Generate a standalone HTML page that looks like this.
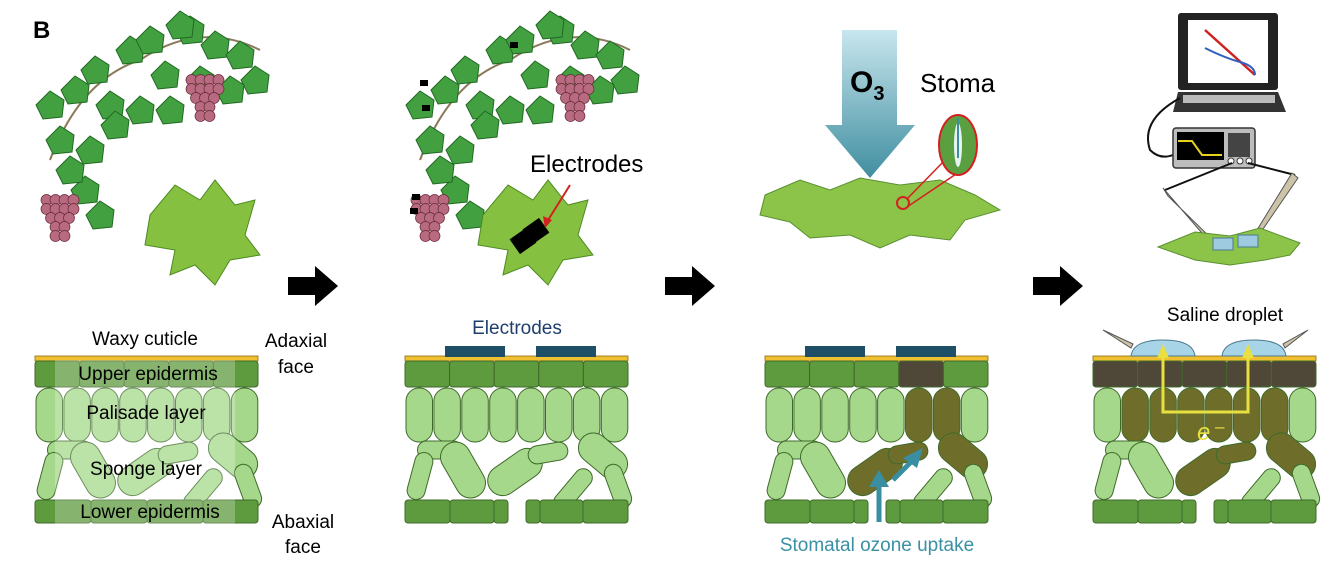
<!DOCTYPE html>
<html><head><meta charset="utf-8">
<style>
html,body{margin:0;padding:0;background:#fff;}
svg{display:block;font-family:"Liberation Sans",sans-serif;}
</style></head>
<body>
<svg id="fig" width="1338" height="566" viewBox="0 0 1338 566">
<text x="33" y="38" font-size="24" font-weight="bold">B</text>

<g id="vine1"></g>
<g id="vine2"></g>

<g>
<path d="M150 215 L175 185 L200 200 L215 180 L235 205 L255 200 L245 235 L260 255 L230 260 L215 285 L195 265 L170 275 L175 250 L145 245 Z" fill="#86c040" stroke="#4e8a22" stroke-width="1"/>
</g>
<g>
<path d="M483 215 L508 185 L533 200 L548 180 L568 205 L588 200 L578 235 L593 255 L563 260 L548 285 L528 265 L503 275 L508 250 L478 245 Z" fill="#86c040" stroke="#4e8a22" stroke-width="1"/>
<rect x="513" y="232" width="20" height="18" fill="#000" transform="rotate(-35 523 241)"/>
<rect x="526" y="222" width="20" height="18" fill="#000" transform="rotate(-35 536 231)"/>
<line x1="570" y1="185" x2="545" y2="225" stroke="#d42020" stroke-width="2"/>
<polygon points="545,228 543,216 552,220" fill="#d42020"/>
</g>
<text x="530" y="172" font-size="24">Electrodes</text>

<g>
<defs><linearGradient id="og" x1="0" y1="0" x2="0" y2="1"><stop offset="0" stop-color="#c8e6ee"/><stop offset="1" stop-color="#3f8ea0"/></linearGradient></defs>
<polygon points="842,30 897,30 897,125 915,125 870,178 825,125 842,125" fill="url(#og)"/>
<text x="850" y="92" font-size="30" font-weight="bold">O<tspan font-size="20" dy="8">3</tspan></text>
</g>
<text x="920" y="92" font-size="26">Stoma</text>
<g>
<path d="M765 195 L800 180 L830 190 L860 178 L900 185 L940 180 L975 195 L1000 210 L965 220 L950 240 L910 235 L880 248 L850 235 L810 238 L790 222 L760 215 Z" fill="#8cc44a" stroke="#5a9030" stroke-width="1"/>
<circle cx="903" cy="203" r="6" fill="none" stroke="#d42020" stroke-width="2"/>
<line x1="907" y1="199" x2="945" y2="160" stroke="#d42020" stroke-width="1.5"/>
<line x1="907" y1="207" x2="965" y2="168" stroke="#d42020" stroke-width="1.5"/>
<ellipse cx="958" cy="145" rx="19" ry="30" fill="#5aa040" stroke="#d42020" stroke-width="2"/>
<ellipse cx="958" cy="145" rx="4" ry="22" fill="#e8f4f4"/>
<line x1="958" y1="118" x2="958" y2="158" stroke="#3f8ea0" stroke-width="2"/>
</g>

<g>
<rect x="1178" y="13" width="100" height="77" rx="3" fill="#222"/>
<rect x="1188" y="20" width="80" height="63" fill="#fff"/>
<line x1="1205" y1="30" x2="1255" y2="75" stroke="#d02020" stroke-width="2.5"/>
<path d="M1205 48 Q1225 58 1240 62 T1255 75" fill="none" stroke="#3060c0" stroke-width="2"/>
<polygon points="1178,92 1278,92 1286,112 1173,112" fill="#333"/>
<rect x="1183" y="95" width="92" height="8" fill="#bbb"/>
</g>
<path d="M1180 98 Q1140 120 1150 150 Q1160 160 1173 155" fill="none" stroke="#111" stroke-width="2"/>
<g>
<rect x="1173" y="128" width="82" height="40" rx="3" fill="#bdbdbd" stroke="#333" stroke-width="1.5"/>
<rect x="1177" y="132" width="47" height="28" fill="#000"/>
<path d="M1178 141 L1192 141 L1202 155 L1222 155" stroke="#e6d020" stroke-width="2" fill="none"/>
<rect x="1228" y="133" width="22" height="24" fill="#444"/>
<circle cx="1231" cy="161" r="3" fill="#fff" stroke="#333"/><circle cx="1240" cy="161" r="3" fill="#fff" stroke="#333"/><circle cx="1249" cy="161" r="3" fill="#fff" stroke="#333"/>
</g>
<line x1="1232" y1="163" x2="1165" y2="190" stroke="#111" stroke-width="2"/>
<line x1="1248" y1="163" x2="1295" y2="175" stroke="#111" stroke-width="2"/>
<polygon points="1163,188 1168,196 1218,245 1214,247" fill="#ccc3a8" stroke="#555" stroke-width="1"/>
<polygon points="1292,173 1298,178 1252,245 1249,243" fill="#ccc3a8" stroke="#555" stroke-width="1"/>
<g>
<path d="M1158 247 L1195 232 L1230 236 L1260 228 L1300 243 L1290 255 L1265 260 L1230 265 L1195 260 Z" fill="#8cc44a" stroke="#5a9030"/>
<rect x="1213" y="238" width="20" height="12" fill="#9ecbe0" stroke="#4a7a90"/>
<rect x="1238" y="235" width="20" height="12" fill="#9ecbe0" stroke="#4a7a90"/>
</g>

<g fill="#000">
<polygon points="288,277 315,277 315,266 338,286 315,306 315,295 288,295"/>
<polygon points="665,277 692,277 692,266 715,286 692,306 692,295 665,295"/>
<polygon points="1033,277 1060,277 1060,266 1083,286 1060,306 1060,295 1033,295"/>
</g>

<g id="sections"></g>

<text x="145" y="345" font-size="19" text-anchor="middle">Waxy cuticle</text>
<text x="296" y="347" font-size="19" text-anchor="middle">Adaxial</text>
<text x="296" y="373" font-size="19" text-anchor="middle">face</text>
<text x="148" y="380" font-size="19" text-anchor="middle">Upper epidermis</text>
<text x="146" y="419" font-size="19" text-anchor="middle">Palisade layer</text>
<text x="146" y="475" font-size="19" text-anchor="middle">Sponge layer</text>
<text x="150" y="518" font-size="19" text-anchor="middle">Lower epidermis</text>
<text x="303" y="528" font-size="19" text-anchor="middle">Abaxial</text>
<text x="303" y="553" font-size="19" text-anchor="middle">face</text>
<text x="517" y="334" font-size="19" text-anchor="middle" fill="#1e3f6e">Electrodes</text>
<text x="877" y="551" font-size="19" text-anchor="middle" fill="#3a90a4">Stomatal ozone uptake</text>
<text x="1225" y="321" font-size="19" text-anchor="middle">Saline droplet</text>
</svg>
<script>
const NS="http://www.w3.org/2000/svg";
function mk(parent,tag,attrs){const e=document.createElementNS(NS,tag);for(const k in attrs)e.setAttribute(k,attrs[k]);parent.appendChild(e);return e;}
const panelX=[35,405,765,1093];
const DARK="#5e9a3e",LIGHT="#a5d88a",OLIVE="#6e6e2a",BROWN="#4f4838",STROKE="#3f6a2a";
const sponge3=[[35,120,45,18,0],[15,146,18,48,15],[58,140,30,60,-30],[110,142,30,60,55],[143,123,40,18,-10],[168,160,18,50,40],[198,126,30,55,-50],[213,156,18,45,-20]];
const sections=document.getElementById('sections');
panelX.forEach((x0,p)=>{
  const g=mk(sections,'g',{transform:`translate(${x0},330)`});
  
  
  mk(g,'rect',{x:0,y:26,width:223,height:5,fill:'#f0c030',stroke:'#8a6a10','stroke-width':0.8});
  for(let i=0;i<5;i++){
    let f=DARK; if(p===2&&i===3)f=BROWN; if(p===3)f=BROWN;
    mk(g,'rect',{x:i*44.6,y:31,width:44.6,height:26,rx:3,fill:f,stroke:STROKE,'stroke-width':1});
  }
  for(let i=0;i<8;i++){
    let f=LIGHT; if(p===2&&(i===5||i===6))f=OLIVE; if(p===3&&i>=1&&i<=6)f=OLIVE;
    mk(g,'rect',{x:i*27.9+1,y:58,width:26.5,height:54,rx:13,fill:f,stroke:STROKE,'stroke-width':1});
  }
  sponge3.forEach((c,i)=>{
    let f=LIGHT; if(p>=2&&(i===3||i===4||i===6))f=OLIVE;
    mk(g,'rect',{x:c[0]-c[2]/2,y:c[1]-c[3]/2,width:c[2],height:c[3],rx:Math.min(c[2],c[3])/2,fill:f,stroke:STROKE,'stroke-width':1,transform:`rotate(${c[4]} ${c[0]} ${c[1]})`});
  });
  const lower=p===0?[[0,56],[56,112],[112,168],[168,223]]:[[0,45],[45,89],[89,103],[121,135],[135,178],[178,223]];
  lower.forEach(c=>mk(g,'rect',{x:c[0],y:170,width:c[1]-c[0],height:23,rx:3,fill:DARK,stroke:STROKE,'stroke-width':1}));
  if(p===0){mk(g,'rect',{x:20,y:30,width:180,height:165,fill:'#fff',opacity:0.25});}
  if(p>=1&&p<=2){
    mk(g,'rect',{x:40,y:16,width:60,height:11,fill:'#1f4f66'});
    mk(g,'rect',{x:131,y:16,width:60,height:11,fill:'#1f4f66'});
  }
  if(p===2){
    mk(g,'line',{x1:114,y1:192,x2:114,y2:155,stroke:'#3a8ea2','stroke-width':5});
    mk(g,'polygon',{points:'104,157 124,157 114,140',fill:'#3a8ea2'});
    mk(g,'line',{x1:128,y1:150,x2:148,y2:130,stroke:'#3a8ea2','stroke-width':5});
    mk(g,'polygon',{points:'138,128 152,138 158,118',fill:'#3a8ea2'});
  }
  if(p===3){
    mk(g,'path',{d:'M38 26 Q40 10 70 10 Q100 10 102 26 Z',fill:'#a8d4e8',stroke:'#4a7a90'});
    mk(g,'path',{d:'M129 26 Q131 10 161 10 Q191 10 193 26 Z',fill:'#a8d4e8',stroke:'#4a7a90'});
    mk(g,'polygon',{points:'10,0 40,14 38,18',fill:'#ccc3a8',stroke:'#555'});
    mk(g,'polygon',{points:'215,0 190,14 192,18',fill:'#ccc3a8',stroke:'#555'});
    mk(g,'path',{d:'M70 20 L70 82 L155 82 L155 20',fill:'none',stroke:'#e8e040','stroke-width':3});
    mk(g,'polygon',{points:'64,28 76,28 70,14',fill:'#e8e040'});
    mk(g,'polygon',{points:'149,28 161,28 155,14',fill:'#e8e040'});
    const t=mk(g,'text',{x:104,y:110,'font-size':24,'font-style':'italic',fill:'#e8e040'});t.textContent='e⁻';
    
    
  }
});
function vine(gid,dx,electrodes){
  const g=document.getElementById(gid);
  mk(g,'path',{d:`M${dx+50} 160 Q${dx+80} 80 ${dx+140} 60 Q${dx+200} 20 ${dx+260} 50`,fill:'none',stroke:'#8a7a5a','stroke-width':2});
  const leaves=[[50,105],[75,90],[95,70],[110,105],[130,50],[150,40],[165,75],[190,30],[215,45],[240,55],[255,80],[230,90],[60,140],[90,150],[115,125],[140,110],[85,190],[100,215],[70,170],[170,110],[200,80],[180,25]];
  leaves.forEach(l=>mk(g,'path',{d:`M${dx+l[0]-14} ${l[1]} L${dx+l[0]} ${l[1]-14} L${dx+l[0]+14} ${l[1]-5} L${dx+l[0]+12} ${l[1]+12} L${dx+l[0]-7} ${l[1]+14} Z`,fill:'#43a040',stroke:'#1f6a22','stroke-width':1}));
  const bunch=(cx,cy)=>{for(let r=0;r<5;r++){const n=4-Math.floor(r*0.7);for(let i=0;i<n;i++)mk(g,'circle',{cx:dx+cx+(i-(n-1)/2)*9,cy:cy+r*9,r:5.5,fill:'#b86a80',stroke:'#6a2a3a','stroke-width':0.7});}};
  bunch(205,80);bunch(60,200);
  if(electrodes){[[140,42],[50,80],[52,105],[40,208],[42,194]].forEach(e=>mk(g,'rect',{x:dx+e[0],y:e[1],width:8,height:6,fill:'#000'}));}
}
vine('vine1',0,false);
vine('vine2',370,true);
</script>
</body></html>
